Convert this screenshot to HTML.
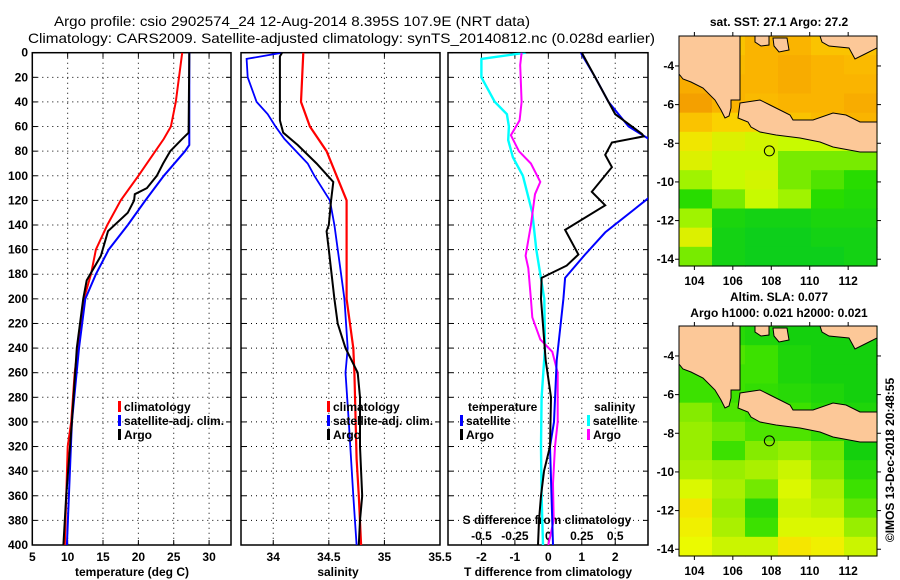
<!DOCTYPE html>
<html><head><meta charset="utf-8"><style>
html,body{margin:0;padding:0;background:#fff;}
svg{display:block;font-family:"Liberation Sans",sans-serif;}
.b{font-weight:bold;font-size:12px;}
</style></head><body>
<svg id="s" width="900" height="580" viewBox="0 0 900 580">
<text x="54" y="26" font-size="14" textLength="476" lengthAdjust="spacingAndGlyphs">Argo profile: csio 2902574_24 12-Aug-2014 8.395S 107.9E (NRT data)</text>
<text x="28" y="43" font-size="14" textLength="627" lengthAdjust="spacingAndGlyphs">Climatology: CARS2009. Satellite-adjusted climatology: synTS_20140812.nc (0.028d earlier)</text>
<g id="g"></g>
</svg>
<script>
// ---- data ----
const depthTicks=[0,20,40,60,80,100,120,140,160,180,200,220,240,260,280,300,320,340,360,380,400];
const tempTicks=[5,10,15,20,25,30];
const salTicks=[34,34.5,35,35.5];
const tdiffTicks=[-2,-1,0,1,2];
const sdiffTicks=[-0.5,-0.25,0,0.25,0.5];
const tClimD=[0,40,60,70,80,100,120,140,160,180,200,260,300,320,400];
const tClimV=[26.2,25.3,24.6,23.6,22.4,20,17.5,15.6,14,13.3,12.3,11,10.5,10,9.6];
const tSatD=[0,60,75,80,100,120,140,160,180,200,240,300,400];
const tSatV=[27.2,27.2,27.2,26.6,23.6,21,18.5,15.8,14,12.5,11.6,10.6,9.9];
const tArgoD=[0,65,70,80,90,100,110,115,120,130,145,165,185,200,240,300,360,400];
const tArgoV=[27.2,27.1,26.2,24.5,23.5,22.6,21.2,19.5,19.4,18.5,15.7,14.7,12.7,12.2,11.3,10.6,9.8,9.4];
const sClimD=[0,40,60,80,100,120,200,240,260,330,360,400];
const sClimV=[34.27,34.25,34.33,34.48,34.57,34.66,34.66,34.72,34.73,34.75,34.77,34.79];
const sSatD=[0,5,20,40,50,60,70,90,100,120,140,180,200,240,260,300,360,400];
const sSatV=[34.08,33.76,33.77,33.85,33.95,34.02,34.1,34.31,34.37,34.51,34.55,34.61,34.64,34.67,34.65,34.68,34.72,34.75];
const sArgoD=[0,3,55,65,75,90,105,120,140,145,160,200,220,240,260,280,320,360,380,400];
const sArgoV=[34.08,34.06,34.06,34.09,34.22,34.39,34.54,34.52,34.5,34.48,34.5,34.55,34.58,34.65,34.76,34.78,34.78,34.8,34.78,34.77];
const dtSatD=[0,20,40,60,70,75,118,146,164,183,200,250,300,320,400];
const dtSatV=[0.97,1.4,1.8,2.4,3.0,3.3,3.0,1.7,1.1,0.5,0.45,0.25,0.17,0.05,0.14];
const dtArgoD=[0,20,50,66,68,73,83,93,113,124,144,164,173,183,200,250,280,320,340,360,380,400];
const dtArgoV=[1.0,1.4,2.0,2.8,2.85,1.9,1.7,1.9,1.3,1.7,0.5,0.9,0.55,-0.2,-0.22,-0.08,0.08,0.05,-0.13,-0.22,-0.28,-0.31];
const dsSatD=[0,5,20,40,50,60,71,85,100,130,160,200,240,280,320,360,400];
const dsSatV=[-0.17,-0.5,-0.5,-0.4,-0.31,-0.295,-0.3,-0.265,-0.19,-0.12,-0.09,-0.03,-0.025,-0.05,-0.055,-0.05,-0.04];
const dsArgoD=[0,10,40,55,67,80,90,105,115,140,165,175,200,215,233,243,260,300,320,350,380,400];
const dsArgoV=[-0.2,-0.21,-0.2,-0.215,-0.28,-0.22,-0.13,-0.06,-0.1,-0.13,-0.17,-0.15,-0.13,-0.12,-0.06,0.03,0.07,0.07,0.05,0.035,0.04,0.0];
const lonTicks=[104,106,108,110,112];
const latTicks=[-4,-6,-8,-10,-12,-14];
const sstGrid=[
[0.85,0.85,0.9,0.9,0.85,0.85],
[0.9,0.88,0.9,0.92,0.9,0.88],
[0.92,0.9,0.9,0.92,0.9,0.9],
[0.95,0.9,0.88,0.9,0.9,0.92],
[0.85,0.8,0.8,0.85,0.88,0.9],
[0.7,0.6,0.55,0.5,0.5,0.5],
[0.6,0.5,0.5,0.4,0.4,0.4],
[0.45,0.5,0.55,0.4,0.35,0.3],
[0.3,0.4,0.5,0.45,0.3,0.25],
[0.45,0.2,0.15,0.15,0.2,0.2],
[0.6,0.15,0.1,0.1,0.15,0.15],
[0.4,0.15,0.1,0.1,0.1,0.15]];
const slaGrid=[
[0.3,0.2,0.15,0.1,0.1,0.1],
[0.3,0.35,0.3,0.15,0.1,0.1],
[0.3,0.3,0.3,0.15,0.1,0.1],
[0.3,0.3,0.25,0.2,0.15,0.1],
[0.5,0.35,0.3,0.3,0.2,0.15],
[0.55,0.45,0.35,0.35,0.25,0.2],
[0.55,0.3,0.5,0.55,0.45,0.1],
[0.6,0.55,0.6,0.7,0.5,0.2],
[0.75,0.6,0.45,0.75,0.6,0.3],
[0.9,0.55,0.2,0.7,0.65,0.4],
[0.85,0.6,0.3,0.75,0.75,0.55],
[0.8,0.7,0.7,0.9,0.85,0.7]];
const floatLon=107.9, floatLat=-8.395;

// ---- geometry ----
const NS='http://www.w3.org/2000/svg';
const G=document.getElementById('g');
function mk(tag,at,parent){const e=document.createElementNS(NS,tag);for(const k in at)e.setAttribute(k,at[k]);(parent||G).appendChild(e);return e;}
const top0=52.7, bot0=545;
const yD=d=>top0+(bot0-top0)*d/400;
const P1={x0:32.3,x1:231,v0:5,v1:33.1};
const P2={x0:241,x1:440,v0:33.71,v1:35.5};
const P3={x0:448,x1:648,v0:-3.0,v1:2.98};
const sx=(P,v)=>P.x0+(P.x1-P.x0)*(v-P.v0)/(P.v1-P.v0);
const sxS=v=>sx(P3,v*4);

function panel(P,ticks,fmt,name){
  const g=mk('g',{});
  
  
  depthTicks.forEach(d=>{ if(d>0&&d<400){mk('line',{x1:P.x0,x2:P.x1,y1:yD(d),y2:yD(d),stroke:'#000','stroke-width':1,'stroke-dasharray':'1,4'},g);}
    mk('line',{x1:P.x0,x2:P.x0+5,y1:yD(d),y2:yD(d),stroke:'#000'},g);mk('line',{x1:P.x1-5,x2:P.x1,y1:yD(d),y2:yD(d),stroke:'#000'},g);});
  ticks.forEach(v=>{const x=sx(P,v); if(x>P.x0+2&&x<P.x1-2) mk('line',{x1:x,x2:x,y1:top0,y2:bot0,stroke:'#000','stroke-dasharray':'1,4'},g);
    mk('line',{x1:x,x2:x,y1:top0,y2:top0+5,stroke:'#000'},g);mk('line',{x1:x,x2:x,y1:bot0-5,y2:bot0,stroke:'#000'},g);
    if(fmt){const t=mk('text',{x:x,y:bot0+16,'text-anchor':'middle',class:'b'},g);t.textContent=fmt(v);
      
      }});
  mk('rect',{x:P.x0,y:top0,width:P.x1-P.x0,height:bot0-top0,fill:'none',stroke:'#000','stroke-width':1.5},g);
  return g;
}
function line(D,V,fx,color,w,name){
  const pts=D.map((d,i)=>fx(V[i]).toFixed(1)+','+yD(d).toFixed(1)).join(' ');
  const e=mk('polyline',{points:pts,fill:'none',stroke:color,'stroke-width':w,'clip-path':'url(#c3)'});
  
  
}
const defs=mk('defs',{});
const cp=mk('clipPath',{id:'c3'},defs);mk('rect',{x:0,y:top0,width:648,height:bot0-top0},cp);

panel(P1,[5,10,15,20,25,30],v=>String(v),'temperature-panel');
panel(P2,salTicks,v=>String(v),'salinity-panel');
panel(P3,tdiffTicks,v=>String(v),'difference-panel');
depthTicks.forEach(d=>{const t=mk('text',{x:28,y:yD(d)+4,'text-anchor':'end',class:'b'});t.textContent=d;
  
  });
function lbl(x,y,s,name,anchor,fill){const t=mk('text',{x:x,y:y,'text-anchor':anchor||'start',class:'b',fill:fill||'#000'});t.textContent=s;
  
  return t;}
lbl(132,576,'temperature (deg C)','temperature-axis-title','middle');
lbl(338,576,'salinity','salinity-axis-title','middle');
lbl(548,576,'T difference from climatology','tdiff-axis-title','middle');
lbl(547,524,'S difference from climatology','sdiff-axis-title','middle');
sdiffTicks.forEach(v=>{const t=mk('text',{x:sxS(v),y:540,'text-anchor':'middle',class:'b'});t.textContent=(v===0?'0':String(v));
  
  });

line(tClimD,tClimV,v=>sx(P1,v),'#f00',2,'temp-climatology-line');
line(tSatD,tSatV,v=>sx(P1,v),'#00f',2,'temp-satellite-line');
line(tArgoD,tArgoV,v=>sx(P1,v),'#000',2,'temp-argo-line');
line(sClimD,sClimV,v=>sx(P2,v),'#f00',2.2,'sal-climatology-line');
line(sSatD,sSatV,v=>sx(P2,v),'#00f',1.8,'sal-satellite-line');
line(sArgoD,sArgoV,v=>sx(P2,v),'#000',2,'sal-argo-line');
line(dsSatD,dsSatV,sxS,'#0ff',2.4,'sdiff-satellite-line');
line(dsArgoD,dsArgoV,sxS,'#f0f',2,'sdiff-argo-line');
line(dtSatD,dtSatV,v=>sx(P3,v),'#00f',2,'tdiff-satellite-line');
line(dtArgoD,dtArgoV,v=>sx(P3,v),'#000',2,'tdiff-argo-line');

function legEntry(x,y,color,s,name){mk('rect',{x:x,y:y-10,width:3,height:11,fill:color});lbl(x+6,y,s,name);}
[[118,'#f00','climatology'],[118,'#00f','satellite-adj. clim.'],[118,'#000','Argo']].forEach((e,i)=>legEntry(e[0],411+i*14,e[1],e[2],'temp-legend-entry'));
[[327,'#f00','climatology'],[327,'#00f','satellite-adj. clim.'],[327,'#000','Argo']].forEach((e,i)=>legEntry(e[0],411+i*14,e[1],e[2],'sal-legend-entry'));
lbl(468,411,'temperature','diff-legend-temp-header');
legEntry(460,425,'#00f','satellite','diff-legend-temp-sat');
legEntry(460,439,'#000','Argo','diff-legend-temp-argo');
lbl(594,411,'salinity','diff-legend-sal-header');
legEntry(587,425,'#0ff','satellite','diff-legend-sal-sat');
legEntry(587,439,'#f0f','Argo','diff-legend-sal-argo');

// ---- maps ----
const MX0=679,MX1=877,LON0=103.2,LON1=113.5,LAT0=-2.45,LAT1=-14.35;
const mxp=lon=>MX0+(MX1-MX0)*(lon-LON0)/(LON1-LON0);
function sstColor(v){const st=[[0,[0,200,40]],[0.3,[40,220,0]],[0.5,[200,250,0]],[0.75,[250,225,0]],[0.9,[250,180,0]],[1,[238,140,0]]];return interp(st,v);}
function slaColor(v){const st=[[0,[0,200,20]],[0.3,[60,225,0]],[0.6,[170,240,0]],[0.8,[235,250,0]],[1,[255,210,0]]];return interp(st,v);}
function interp(st,v){for(let i=1;i<st.length;i++){if(v<=st[i][0]){const a=st[i-1],b=st[i],t=(v-a[0])/(b[0]-a[0]);return 'rgb('+a[1].map((c,k)=>Math.round(c+(b[1][k]-c)*t)).join(',')+')';}}return 'rgb('+st[st.length-1][1].join(',')+')';}
const land=[
 [[0,0],[61,0],[61,64],[52,64],[52,72],[50,80],[46,82],[42,74],[36,64],[24,52],[12,46],[4,43],[0,38]],
 [[76,0],[90,0],[90,9],[82,10],[76,6]],
 [[94,2],[108,2],[110,14],[100,16],[95,10]],
 [[141,0],[198,0],[198,12],[186,18],[176,23],[170,12],[150,10],[143,6]],
 [[61,67],[81,64],[91,69],[111,79],[114,84],[134,84],[154,77],[167,79],[181,86],[198,86],[198,116],[181,116],[154,111],[141,106],[121,102],[97,99],[81,96],[72,91],[69,86],[59,82]]
];
function map(ty,grid,colorFn,name){
  const h=230, y0=ty, y1=ty+h;
  const myp=lat=>y0+h*(lat-LAT0)/(LAT1-LAT0);
  const g=mk('g',{});
  
  
  const rows=grid.length, cols=grid[0].length, cw=(MX1-MX0)/cols, rh=h/rows;
  grid.forEach((r,i)=>r.forEach((v,j)=>{const c=mk('rect',{x:MX0+j*cw,y:y0+i*rh,width:cw+0.6,height:rh+0.6,fill:colorFn(v)},g);
    
    }));
  land.forEach(p=>{const e=mk('polygon',{points:p.map(q=>(MX0+q[0])+','+(y0+q[1])).join(' '),fill:'#fcc898',stroke:'#000','stroke-width':1},g);
    
    });
  const c=mk('circle',{cx:mxp(floatLon),cy:myp(floatLat),r:5,fill:'none',stroke:'#000','stroke-width':1},g);
  
  
  mk('rect',{x:MX0,y:y0,width:MX1-MX0,height:h,fill:'none',stroke:'#000','stroke-width':1},g);
  lonTicks.forEach(l=>{const x=mxp(l);mk('line',{x1:x,x2:x,y1:y0-4,y2:y0,stroke:'#000'},g);mk('line',{x1:x,x2:x,y1:y1,y2:y1+4,stroke:'#000'},g);
    const t=mk('text',{x:x,y:y1+19,'text-anchor':'middle',class:'b'},g);t.textContent=l;
    
    });
  latTicks.forEach(l=>{const y=myp(l);mk('line',{x1:MX0-4,x2:MX0,y1:y,y2:y,stroke:'#000'},g);mk('line',{x1:MX1,x2:MX1+4,y1:y,y2:y,stroke:'#000'},g);
    const t=mk('text',{x:674,y:y+4,'text-anchor':'end',class:'b'},g);t.textContent=l;
    
    });
}
map(36,sstGrid,sstColor,'sst-map');
map(326,slaGrid,slaColor,'sla-map');
lbl(779,26,'sat. SST: 27.1 Argo: 27.2','sst-map-title','middle');
lbl(779,301,'Altim. SLA: 0.077','sla-map-title','middle');
lbl(779,317,'Argo h1000: 0.021 h2000: 0.021','sla-map-subtitle','middle');
const cr=lbl(0,0,'©IMOS 13-Dec-2018 20:48:55','credit-text','middle');
cr.setAttribute('font-weight','normal');cr.setAttribute('font-size','13');
cr.setAttribute('transform','translate(894,460) rotate(-90)');
</script>
</body></html>
